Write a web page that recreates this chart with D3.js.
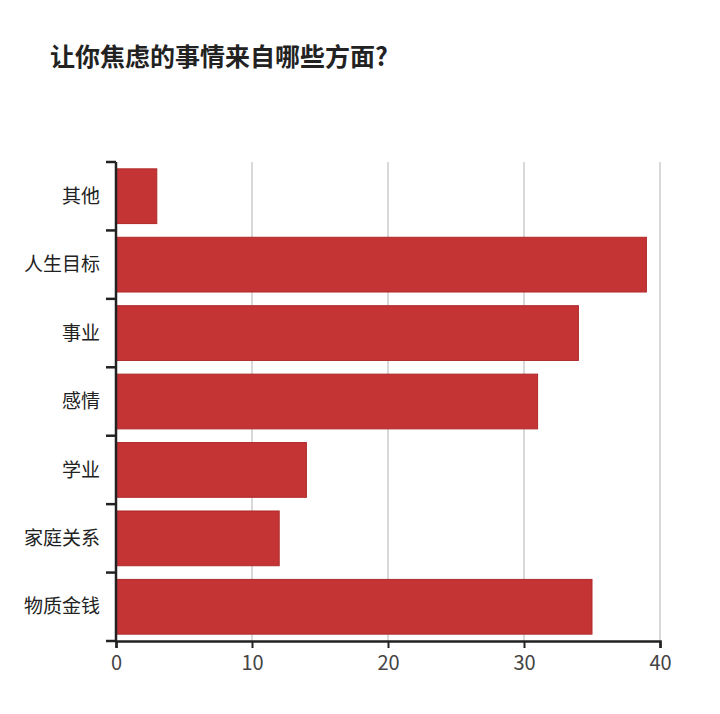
<!DOCTYPE html>
<html>
<head>
<meta charset="utf-8">
<script src="https://cdn.jsdelivr.net/npm/d3@7"></script>
<style>
  body { margin:0; background:#fff; }
  text { font-family: "Noto Sans CJK SC", "Noto Sans", sans-serif; }
  .grid line { stroke:#ccc; stroke-width:1.5px; }
</style>
</head>
<body>
<svg id="chart" width="720" height="714"></svg>
<script>
var categories = ["其他", "人生目标", "事业", "感情", "学业", "家庭关系", "物质金钱"];
var values = [3, 39, 34, 31, 14, 12, 35];
var xTicks = [0, 10, 20, 30, 40];

var svg = d3.select("#chart");
var mLeft = 116, mRight = 660, mTop = 162, mBottom = 641;

svg.append("text").attr("x", 50).attr("y", 66)
  .attr("font-size", 25).attr("font-weight", "bold").attr("fill", "#222")
  .text("让你焦虑的事情来自哪些方面?");

var x = d3.scaleLinear().domain([0, 40]).range([mLeft, mRight]);
var y = d3.scaleBand().domain(categories).range([mTop, mBottom]).paddingInner(0.2).paddingOuter(0.1);

// grid
svg.append("g").attr("class", "grid").selectAll("line")
  .data(xTicks.slice(1)).enter().append("line")
  .attr("x1", x).attr("x2", x).attr("y1", mTop).attr("y2", mBottom);

svg.append("g").selectAll("rect")
  .data(categories).enter().append("rect")
  .attr("x", x(0))
  .attr("y", function(d) { return y(d); })
  .attr("height", y.bandwidth())
  .attr("width", function(d, i) { return x(values[i]) - x(0); })
  .attr("fill", "#c43434")
  .attr("stroke", "#b02a2a").attr("stroke-width", 1);

// y axis: ticks between bands
var yAxis = svg.append("g").attr("stroke", "#222").attr("stroke-width", 2.5);
yAxis.append("line").attr("x1", mLeft).attr("x2", mLeft).attr("y1", mTop).attr("y2", mBottom);
var bounds = d3.range(categories.length + 1).map(function(i) { return mTop + i * (mBottom - mTop) / categories.length; });
yAxis.selectAll(".tk").data(bounds).enter().append("line")
  .attr("x1", mLeft - 10).attr("x2", mLeft).attr("y1", function(d){return d;}).attr("y2", function(d){return d;});

svg.append("g").selectAll("text").data(categories).enter().append("text")
  .attr("x", 100).attr("y", function(d) { return y(d) + y.bandwidth() / 2; })
  .attr("dy", "0.35em").attr("text-anchor", "end")
  .attr("font-size", 19).attr("fill", "#222").text(function(d) { return d; });

// x axis
var xAxis = d3.axisBottom(x).tickValues(xTicks).tickSize(7).tickPadding(8);
var gx = svg.append("g").attr("transform", "translate(0," + mBottom + ")").call(xAxis);
gx.select(".domain").attr("stroke", "#222").attr("stroke-width", 2.5);
gx.selectAll(".tick line").attr("stroke", "#222").attr("stroke-width", 2);
gx.selectAll(".tick text").attr("font-size", 20).attr("fill", "#444")
  .attr("font-family", "'Noto Sans', sans-serif");
</script>
</body>
</html>
